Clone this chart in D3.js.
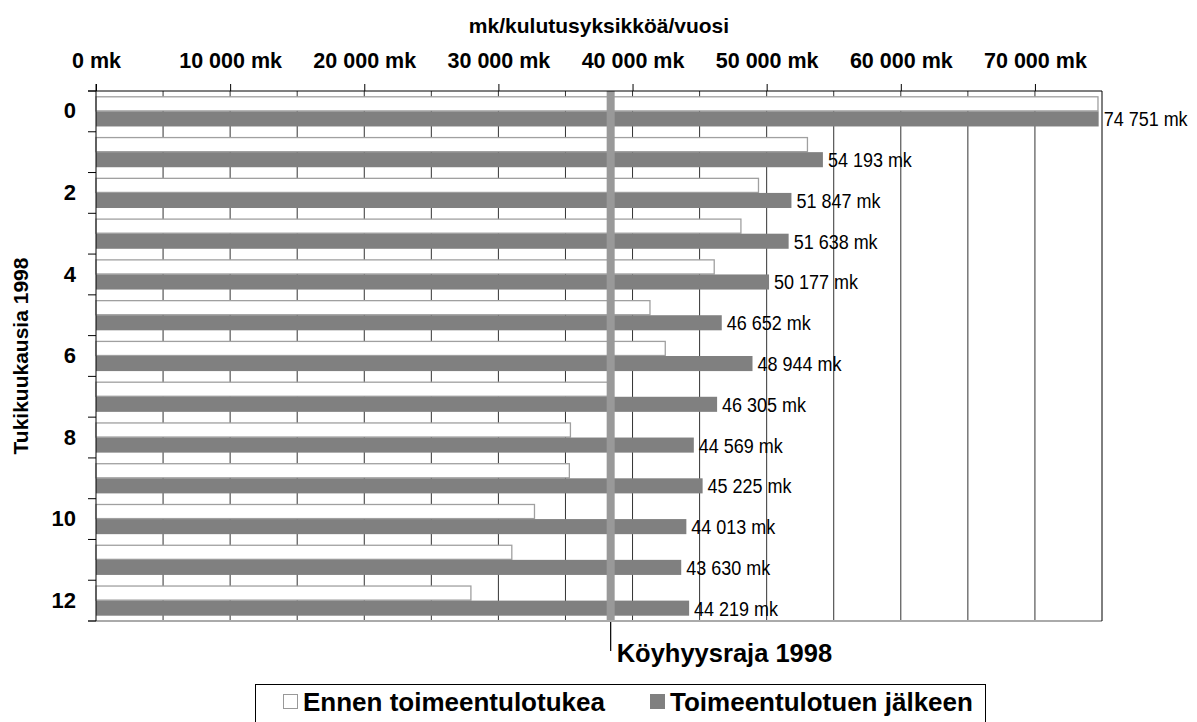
<!DOCTYPE html>
<html>
<head>
<meta charset="utf-8">
<script src="https://cdn.jsdelivr.net/npm/d3@7"></script>
<style>
  body { margin: 0; background: #fff; }
  text { font-family: "Liberation Sans", Arial, sans-serif; fill: #000; }
</style>
</head>
<body>
<svg width="1197" height="722"></svg>
<script>
// data
var categories = ["0", "1", "2", "3", "4", "5", "6", "7", "8", "9", "10", "11", "12"];
var ennen = [74700, 53040, 49390, 48080, 46090, 41300, 42440, 38250, 35370, 35290, 32690, 31000, 27950];
var jalkeen = [74751, 54193, 51847, 51638, 50177, 46652, 48944, 46305, 44569, 45225, 44013, 43630, 44219];
var xTicks = [0, 10000, 20000, 30000, 40000, 50000, 60000, 70000];
var gridTicks = d3.range(5000, 75000, 5000);
var povertyLine = 38370;
var seriesNames = ["Ennen toimeentulotukea", "Toimeentulotuen jälkeen"];

var svg = d3.select("svg"),
    pLeft = 96, pRight = 1102, pTop = 91, pBottom = 621;

var fmt = function(v) { return d3.format(",")(v).replace(/,/g, " ") + " mk"; };

var x = d3.scaleLinear().domain([0, 75000]).range([pLeft, pRight]);
var y = d3.scaleBand().domain(categories).range([pTop, pBottom])
          .paddingInner(0.26).paddingOuter(0.13);
var y1 = d3.scaleBand().domain([0, 1]).range([0, y.bandwidth()]);

// gridlines
svg.append("g").selectAll("line")
   .data(gridTicks)
   .enter().append("line")
   .attr("x1", function(d) { return x(d); })
   .attr("x2", function(d) { return x(d); })
   .attr("y1", pTop)
   .attr("y2", pBottom)
   .attr("stroke", "#333")
   .attr("stroke-width", 1);

// bars
var rows = svg.append("g").selectAll("g")
   .data(categories)
   .enter().append("g")
   .attr("transform", function(d) { return "translate(0," + y(d) + ")"; });

rows.append("rect")
    .attr("x", x(0))
    .attr("y", y1(0) + 0.5)
    .attr("width", function(d, i) { return x(ennen[i]) - x(0); })
    .attr("height", y1.bandwidth() - 1)
    .attr("fill", "#fff")
    .attr("stroke", "#a0a0a0")
    .attr("stroke-width", 1.3);

rows.append("rect")
    .attr("x", x(0))
    .attr("y", y1(1))
    .attr("width", function(d, i) { return x(jalkeen[i]) - x(0); })
    .attr("height", y1.bandwidth())
    .attr("fill", "#808080");

rows.append("text")
    .attr("transform", function(d, i) {
        return "translate(" + (x(jalkeen[i]) + 5) + "," + (y1(1) + y1.bandwidth() / 2) + ") scale(1,1.15)";
    })
    .attr("dy", "0.36em")
    .attr("font-size", 18)
    .text(function(d, i) { return fmt(jalkeen[i]); });

// poverty line
svg.append("line")
   .attr("x1", x(povertyLine)).attr("x2", x(povertyLine))
   .attr("y1", pTop).attr("y2", pBottom)
   .attr("stroke", "#999")
   .attr("stroke-width", 8);

svg.append("line")
   .attr("x1", x(povertyLine)).attr("x2", x(povertyLine))
   .attr("y1", pBottom).attr("y2", pBottom + 30)
   .attr("stroke", "#000")
   .attr("stroke-width", 1.2);

svg.append("text")
   .attr("x", x(povertyLine) + 6)
   .attr("y", 662)
   .attr("font-size", 25.5)
   .attr("font-weight", "bold")
   .text("Köyhyysraja 1998");

// frame
svg.append("line")
   .attr("x1", pLeft - 8).attr("x2", pRight)
   .attr("y1", pBottom).attr("y2", pBottom)
   .attr("stroke", "#aaa").attr("stroke-width", 2);

svg.append("line")
   .attr("x1", pRight).attr("x2", pRight)
   .attr("y1", pTop).attr("y2", pBottom)
   .attr("stroke", "#000");

// top axis
var xAxis = d3.axisTop(x)
    .tickValues(xTicks)
    .tickSize(7)
    .tickPadding(16)
    .tickFormat(fmt);

var gx = svg.append("g")
    .attr("transform", "translate(0," + pTop + ")")
    .call(xAxis);
gx.select(".domain").remove();
gx.append("line")
  .attr("x1", pLeft - 8).attr("x2", pRight)
  .attr("stroke", "#000");
gx.selectAll("line").attr("stroke", "#000");
gx.selectAll("text")
  .attr("font-size", 21.5)
  .attr("font-weight", "bold")
  .attr("font-family", "Liberation Sans, Arial, sans-serif")
  .attr("fill", "#000");

// left axis
var yAxis = d3.axisLeft(y)
    .tickSize(0)
    .tickPadding(20)
    .tickFormat(function(d) { return +d % 2 === 0 ? d : ""; });

var gy = svg.append("g")
    .attr("transform", "translate(" + pLeft + ",0)")
    .call(yAxis);
gy.select(".domain").remove();
gy.selectAll("text")
  .attr("font-size", 22)
  .attr("font-weight", "bold")
  .attr("font-family", "Liberation Sans, Arial, sans-serif")
  .attr("fill", "#000");

var bounds = d3.range(categories.length + 1).map(function(i) { return pTop + i * y.step(); });
gy.selectAll(".bound")
  .data(bounds)
  .enter().append("line")
  .attr("class", "bound")
  .attr("x1", -8).attr("x2", 0)
  .attr("y1", function(d) { return d; })
  .attr("y2", function(d) { return d; })
  .attr("stroke", "#000");

gy.append("line")
  .attr("y1", pTop - 7).attr("y2", pBottom)
  .attr("stroke", "#000");

// titles
svg.append("text")
   .attr("x", (pLeft + pRight) / 2)
   .attr("y", 33)
   .attr("text-anchor", "middle")
   .attr("font-size", 21)
   .attr("font-weight", "bold")
   .text("mk/kulutusyksikköä/vuosi");

svg.append("text")
   .attr("transform", "translate(28," + (pTop + pBottom) / 2 + ") rotate(-90)")
   .attr("text-anchor", "middle")
   .attr("font-size", 21)
   .attr("font-weight", "bold")
   .text("Tukikuukausia 1998");

// legend
var legend = svg.append("g");
legend.append("rect")
      .attr("x", 255.5).attr("y", 684.5)
      .attr("width", 730).attr("height", 50)
      .attr("fill", "#fff")
      .attr("stroke", "#000");

var items = legend.selectAll(".item")
      .data(seriesNames)
      .enter().append("g")
      .attr("class", "item")
      .attr("transform", function(d, i) { return "translate(" + [283, 650][i] + ",694)"; });

items.append("rect")
     .attr("x", 0.5).attr("y", 0.5)
     .attr("width", 14).attr("height", 14)
     .attr("fill", function(d, i) { return i ? "#808080" : "#fff"; })
     .attr("stroke", function(d, i) { return i ? "#808080" : "#999"; });

items.append("text")
     .attr("x", 20)
     .attr("y", 7.5)
     .attr("dy", "0.36em")
     .attr("font-size", 26)
     .attr("font-weight", "bold")
     .text(function(d) { return d; });
</script>
</body>
</html>
